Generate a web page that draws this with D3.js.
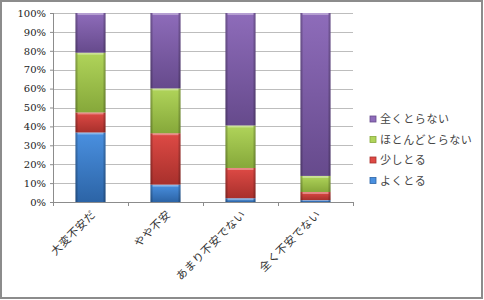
<!DOCTYPE html>
<html>
<head>
<meta charset="utf-8">
<script src="https://cdn.jsdelivr.net/npm/d3@7"></script>
<style>
  body { margin: 0; background: #fff; }
  svg { display: block; }
</style>
</head>
<body>
<div id="chart"></div>
<script>
// chart data
var categories = ["大変不安だ", "やや不安", "あまり不安でない", "全く不安でない"];
var seriesNames = ["よくとる", "少しとる", "ほとんどとらない", "全くとらない"];
var yokuToru = [36.8, 9.2, 2.0, 1.0];
var sukoshiToru = [10.6, 27.2, 16.0, 4.3];
var hotondoToranai = [31.6, 23.7, 22.5, 8.5];
var mattakuToranai = [21.0, 39.9, 59.5, 86.2];
var yTicks = [0, 10, 20, 30, 40, 50, 60, 70, 80, 90, 100];

var colors = {
  "よくとる": ["#4a90e0", "#2c64a6"],
  "少しとる": ["#de4a45", "#a8302c"],
  "ほとんどとらない": ["#b0d45a", "#86a83a"],
  "全くとらない": ["#8e6cba", "#664a8c"]
};

var svgWidth = 484;
var svgHeight = 300;
var margin = { top: 13, left: 53 };
var width = 300;
var height = 189;

var svg = d3.select("#chart").append("svg")
  .attr("width", svgWidth)
  .attr("height", svgHeight);

// outer frame
svg.append("rect")
  .attr("x", 1).attr("y", 1)
  .attr("width", svgWidth - 3).attr("height", svgHeight - 3)
  .attr("fill", "#fff")
  .attr("stroke", "#8c8c8c")
  .attr("stroke-width", 2);

var defs = svg.append("defs");
seriesNames.forEach(function(name, i) {
  var g = defs.append("linearGradient")
    .attr("id", "fill" + i)
    .attr("x1", 0).attr("y1", 0).attr("x2", 0).attr("y2", 1);
  g.append("stop").attr("offset", "0%").attr("stop-color", colors[name][0]);
  g.append("stop").attr("offset", "100%").attr("stop-color", colors[name][1]);
});
var side = defs.append("linearGradient").attr("id", "sideShade")
  .attr("x1", 0).attr("y1", 0).attr("x2", 1).attr("y2", 0);
side.append("stop").attr("offset", "0%").attr("stop-color", "#000").attr("stop-opacity", 0.3);
side.append("stop").attr("offset", "10%").attr("stop-color", "#000").attr("stop-opacity", 0);
side.append("stop").attr("offset", "90%").attr("stop-color", "#000").attr("stop-opacity", 0);
side.append("stop").attr("offset", "100%").attr("stop-color", "#000").attr("stop-opacity", 0.3);

var chartGroup = svg.append("g")
  .attr("transform", `translate(${margin.left}, ${margin.top})`);

var xScale = d3.scaleBand()
  .domain(categories)
  .range([0, width])
  .paddingInner(0.6)
  .paddingOuter(0.3);

var yScale = d3.scaleLinear()
  .domain([0, 100])
  .range([height, 0]);

// gridlines
chartGroup.append("g")
  .selectAll("line")
  .data(yTicks.slice(1))
  .enter()
  .append("line")
  .attr("x1", 0).attr("x2", width)
  .attr("y1", d => Math.round(yScale(d)) + 0.5)
  .attr("y2", d => Math.round(yScale(d)) + 0.5)
  .attr("stroke", "#bdbdbd");

// y axis
var leftAxis = d3.axisLeft(yScale)
  .tickValues(yTicks)
  .tickFormat(d => d + "%")
  .tickSize(3)
  .tickPadding(4);
var yAxis = chartGroup.append("g").call(leftAxis);
yAxis.select(".domain").attr("stroke", "#8c8c8c").attr("d", `M0.5,0V${height}`);
yAxis.selectAll(".tick line").attr("stroke", "#8c8c8c");
yAxis.selectAll(".tick text")
  .attr("font-family", "'DejaVu Serif', serif")
  .attr("font-size", "10px")
  .attr("fill", "#222");

// x axis line and separator ticks
var bottom = chartGroup.append("g").attr("transform", `translate(0, ${height})`);
bottom.append("line")
  .attr("x1", 0).attr("x2", width)
  .attr("y1", 0.5).attr("y2", 0.5)
  .attr("stroke", "#8c8c8c");
bottom.selectAll("line.sep")
  .data(d3.range(categories.length + 1))
  .enter()
  .append("line")
  .attr("class", "sep")
  .attr("x1", d => Math.round(d * width / categories.length) + 0.5)
  .attr("x2", d => Math.round(d * width / categories.length) + 0.5)
  .attr("y1", 0).attr("y2", 4)
  .attr("stroke", "#8c8c8c");

// category labels, rotated
bottom.selectAll("text")
  .data(categories)
  .enter()
  .append("text")
  .attr("transform", d => `translate(${xScale(d) + xScale.bandwidth() / 2 + 6}, 13) rotate(-45)`)
  .attr("text-anchor", "end")
  .attr("font-family", "'Noto Sans CJK JP', sans-serif")
  .attr("font-size", "11px")
  .attr("letter-spacing", "0.6px")
  .attr("fill", "#333")
  .text(d => d);

// stacked data
var table = categories.map(function(c, i) {
  return {
    category: c,
    "よくとる": yokuToru[i],
    "少しとる": sukoshiToru[i],
    "ほとんどとらない": hotondoToranai[i],
    "全くとらない": mattakuToranai[i]
  };
});
var stacked = d3.stack().keys(seriesNames)(table);

var layers = chartGroup.selectAll("g.layer")
  .data(stacked)
  .enter()
  .append("g")
  .attr("class", "layer");

layers.each(function(layer, i) {
  var g = d3.select(this);
  var segs = g.selectAll("g.seg")
    .data(layer)
    .enter()
    .append("g")
    .attr("class", "seg");
  segs.append("rect")
    .attr("x", d => xScale(d.data.category))
    .attr("y", d => yScale(d[1]))
    .attr("width", xScale.bandwidth())
    .attr("height", d => Math.max(0, yScale(d[0]) - yScale(d[1])))
    .attr("fill", "url(#fill" + i + ")");
  segs.append("rect")
    .attr("x", d => xScale(d.data.category))
    .attr("y", d => yScale(d[1]))
    .attr("width", xScale.bandwidth())
    .attr("height", d => Math.max(0, yScale(d[0]) - yScale(d[1])))
    .attr("fill", "url(#sideShade)");
  // top highlight
  segs.append("rect")
    .attr("x", d => xScale(d.data.category) + 2)
    .attr("y", d => yScale(d[1]))
    .attr("width", xScale.bandwidth() - 4)
    .attr("height", d => Math.min(2, Math.max(0, yScale(d[0]) - yScale(d[1]) - 1)))
    .attr("fill", "#fff")
    .attr("opacity", 0.35);
});

// legend (reverse order)
var legend = svg.append("g").attr("transform", "translate(370, 119)");
var items = legend.selectAll("g")
  .data(seriesNames.slice().reverse())
  .enter()
  .append("g")
  .attr("transform", (d, i) => `translate(0, ${i * 20.5})`);
items.append("rect")
  .attr("x", 0).attr("y", -3)
  .attr("width", 6).attr("height", 6)
  .attr("fill", d => colors[d][0])
  .attr("stroke", d => colors[d][1])
  .attr("stroke-width", 0.8);
items.append("text")
  .attr("x", 10)
  .attr("y", 4)
  .attr("font-family", "'Noto Sans CJK JP', sans-serif")
  .attr("font-size", "11px")
  .attr("letter-spacing", "0.6px")
  .attr("fill", "#444")
  .text(d => d);
</script>
</body>
</html>
